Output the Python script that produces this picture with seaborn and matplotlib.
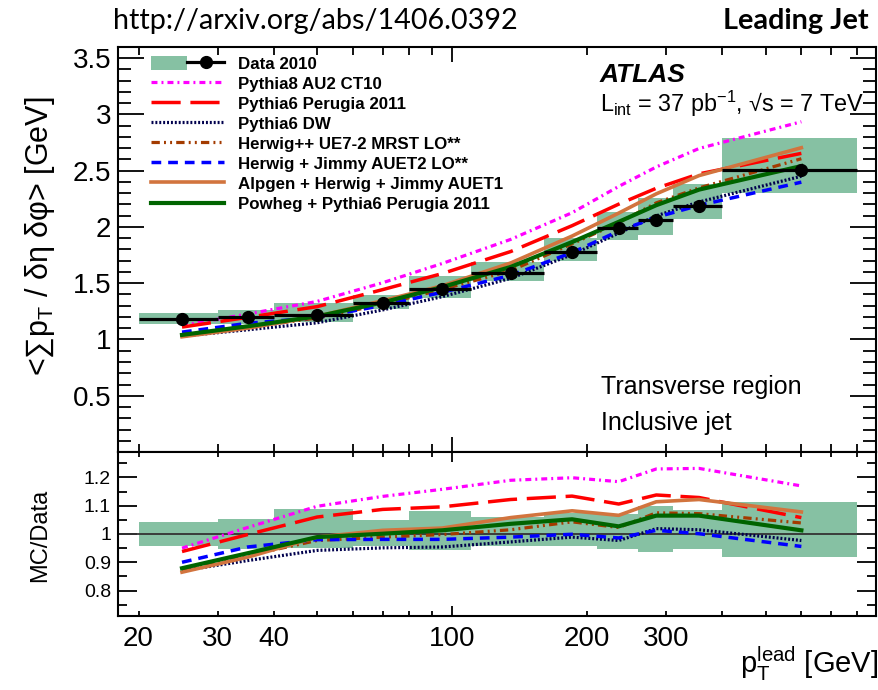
import numpy as np
import pandas as pd
import matplotlib
matplotlib.use("Agg")
import matplotlib.pyplot as plt
import seaborn as sns
from matplotlib.lines import Line2D
from matplotlib.patches import Patch
from matplotlib.legend_handler import HandlerTuple
from matplotlib.ticker import FixedLocator, FixedFormatter, FuncFormatter

# ---------------- data ----------------
bin_edges = [20, 30, 40, 60, 80, 110, 160, 210, 260, 310, 400, 800]
bin_centers = [25, 35, 50, 70, 95, 135, 185, 235, 285, 355, 600]
data_vals = [1.184, 1.199, 1.219, 1.328, 1.447, 1.588, 1.774, 1.992, 2.060, 2.190, 2.509]
data_err_up = [0.051, 0.065, 0.107, 0.065, 0.118, 0.098, 0.130, 0.142, 0.201, 0.189, 0.283]
data_err_dn = [0.050, 0.064, 0.060, 0.058, 0.080, 0.068, 0.074, 0.109, 0.133, 0.115, 0.207]

# MC / Data ratios at the bin centres
ratio_pythia8 = [0.950, 1.023, 1.098, 1.133, 1.158, 1.190, 1.199, 1.185, 1.230, 1.232, 1.170]
ratio_perugia = [0.938, 0.998, 1.060, 1.087, 1.096, 1.122, 1.134, 1.106, 1.138, 1.129, 1.058]
ratio_dw      = [0.870, 0.906, 0.942, 0.951, 0.954, 0.972, 0.989, 0.977, 1.019, 1.015, 0.977]
ratio_herwigpp = [0.872, 0.924, 0.977, 0.989, 0.998, 1.015, 1.043, 1.023, 1.075, 1.072, 1.039]
ratio_jimmy   = [0.900, 0.954, 0.980, 0.981, 0.981, 0.989, 0.999, 0.986, 1.013, 1.001, 0.956]
ratio_alpgen  = [0.865, 0.918, 0.989, 1.013, 1.021, 1.058, 1.082, 1.066, 1.114, 1.122, 1.078]
ratio_powheg  = [0.879, 0.932, 0.989, 1.001, 1.013, 1.036, 1.052, 1.027, 1.065, 1.065, 1.013]

mc_labels = ["Pythia8 AU2 CT10", "Pythia6 Perugia 2011", "Pythia6 DW",
             "Herwig++ UE7-2 MRST LO**", "Herwig + Jimmy AUET2 LO**",
             "Alpgen + Herwig + Jimmy AUET1", "Powheg + Pythia6 Perugia 2011"]
mc_ratios = [ratio_pythia8, ratio_perugia, ratio_dw, ratio_herwigpp,
             ratio_jimmy, ratio_alpgen, ratio_powheg]

# ---------------- styles ----------------
band_color = "#86c1a3"
mc_colors = ["#ff00ff", "#ff0000", "#00004d", "#a33b00", "#0000ff", "#d2743e", "#006400"]
mc_styles = [(0, (4.3, 2.9, 1.4, 2.9)), (0, (21, 7)), (0, (1.4, 1.4)),
             (0, (6, 3, 1.4, 3, 1.4, 3)), (0, (7, 5)), "-", "-"]
mc_widths = [2.3, 2.5, 2.3, 2.3, 2.5, 2.6, 3.0]

plt.rcParams["lines.scale_dashes"] = False
plt.rcParams["font.family"] = ["Liberation Sans", "DejaVu Sans"]
plt.rcParams["mathtext.fontset"] = "custom"
plt.rcParams["mathtext.rm"] = "Liberation Sans"
plt.rcParams["mathtext.it"] = "Liberation Sans:italic"
plt.rcParams["axes.linewidth"] = 1.5

W, H = 879, 690
fig = plt.figure(figsize=(W / 100, H / 100), dpi=100)
ax1 = fig.add_axes([118 / W, 1 - 452 / H, 758 / W, 405 / H])
ax2 = fig.add_axes([118 / W, 1 - 616 / H, 758 / W, 164 / H], sharex=ax1)

edges = np.array(bin_edges, dtype=float)
centers = np.array(bin_centers, dtype=float)
vals = np.array(data_vals)
eup = np.array(data_err_up)
edn = np.array(data_err_dn)

# ----- top panel -----
ax1.bar(edges[:-1], eup + edn, bottom=vals - edn, width=np.diff(edges),
        align="edge", color=band_color, edgecolor="none", zorder=1)
for lab, r, c, ls, lw in zip(mc_labels, mc_ratios, mc_colors, mc_styles, mc_widths):
    df = pd.DataFrame({"pt": centers, "val": np.array(r) * vals})
    sns.lineplot(data=df, x="pt", y="val", ax=ax1, color=c, linestyle=ls,
                 linewidth=lw, dash_capstyle="butt", zorder=3, legend=False)
ax1.errorbar(centers, vals, xerr=[centers - edges[:-1], edges[1:] - centers],
             fmt="o", color="black", ms=8.5, elinewidth=2.3, capsize=0, zorder=5)

# ----- ratio panel -----
ax2.bar(edges[:-1], eup / vals + edn / vals, bottom=1 - edn / vals, width=np.diff(edges),
        align="edge", color=band_color, edgecolor="none", zorder=1)
ax2.axhline(1.0, color="#333333", lw=1.3, zorder=2)
for lab, r, c, ls, lw in zip(mc_labels, mc_ratios, mc_colors, mc_styles, mc_widths):
    df = pd.DataFrame({"pt": centers, "ratio": r})
    sns.lineplot(data=df, x="pt", y="ratio", ax=ax2, color=c, linestyle=ls,
                 linewidth=lw, dash_capstyle="butt", zorder=3, legend=False)

# ----- axes -----
for ax in (ax1, ax2):
    ax.set_xscale("log")
    ax.set_xlim(18, 880)
    ax.xaxis.set_major_locator(FixedLocator([100]))
    ax.xaxis.set_minor_locator(FixedLocator([20, 30, 40, 50, 60, 70, 80, 90,
                                             200, 300, 400, 500, 600, 700, 800]))
    ax.set_xlabel("")
    ax.set_ylabel("")
    ax.tick_params(which="both", direction="in", top=True, right=True, width=1.3)

ax1.set_ylim(0, 3.6)
ax1.yaxis.set_major_locator(FixedLocator([0.5, 1, 1.5, 2, 2.5, 3, 3.5]))
ax1.yaxis.set_major_formatter(FixedFormatter(["0.5", "1", "1.5", "2", "2.5", "3", "3.5"]))
ax1.yaxis.set_minor_locator(FixedLocator(np.arange(0.1, 3.6, 0.1)))
ax1.tick_params(axis="y", which="major", length=19, labelsize=20, pad=5)
ax1.tick_params(axis="y", which="minor", length=9.5)
ax1.tick_params(axis="x", which="major", length=11)
ax1.tick_params(axis="x", which="minor", length=5.5)
ax1.tick_params(axis="x", which="both", labelbottom=False)

ax2.set_ylim(0.71, 1.29)
ax2.yaxis.set_major_locator(FixedLocator([0.8, 0.9, 1.0, 1.1, 1.2]))
ax2.yaxis.set_major_formatter(FixedFormatter(["0.8", "0.9", "1", "1.1", "1.2"]))
ax2.yaxis.set_minor_locator(FixedLocator([0.75, 0.85, 0.95, 1.05, 1.15, 1.25]))
ax2.tick_params(axis="y", which="major", length=14, labelsize=14, pad=5)
ax2.tick_params(axis="y", which="minor", length=6.5)
ax2.tick_params(axis="x", which="major", length=7, labelsize=20, pad=7)
ax2.tick_params(axis="x", which="minor", length=3.6, labelsize=20, pad=7)
ax2.xaxis.set_major_formatter(FixedFormatter(["100"]))
ax2.xaxis.set_minor_formatter(FuncFormatter(
    lambda v, p: ("%d" % round(v)) if round(v) in (20, 30, 40, 200, 300) else ""))

# ----- legend -----
handles = [(Patch(facecolor=band_color, edgecolor="none"),
            Line2D([], [], color="black", lw=2.3, marker="o", ms=8.5))]
for c, ls, lw in zip(mc_colors, mc_styles, mc_widths):
    handles.append(Line2D([], [], color=c, linestyle=ls, lw=lw, dash_capstyle="butt"))
labels = ["Data 2010"] + mc_labels
ax1.legend(handles, labels, handler_map={tuple: HandlerTuple(ndivide=None, pad=0)},
           loc="upper left", bbox_to_anchor=(151 / W, 1 - 56 / H),
           bbox_transform=fig.transFigure, frameon=False, borderpad=0,
           borderaxespad=0, handlelength=4.3, handleheight=0.85, handletextpad=0.85,
           labelspacing=0.26, prop={"family": "Liberation Sans", "weight": "bold", "size": 12.2})

# ----- texts -----
def ftext(x, y, s, **kw):
    fig.text(x / W, 1 - y / H, s, **kw)

ftext(113, 21, "http://arxiv.org/abs/1406.0392", ha="left", va="center",
      family="Lato", size=20.7)
ftext(869, 21, "Leading Jet", ha="right", va="center", family="Lato",
      weight="bold", size=20.7)
ftext(600, 75, "ATLAS", ha="left", va="center", weight="bold", style="italic", size=19)
ftext(600, 104, r"L$_{\mathregular{int}}$ = 37 pb$^{\mathregular{-1}}$, √s = 7 TeV",
      ha="left", va="center", size=16.8)
ftext(601, 387, "Transverse region", ha="left", va="center", size=18)
ftext(601, 423, "Inclusive jet", ha="left", va="center", size=18)
ftext(40, 236, r"<∑p$_{\mathregular{T}}$ / δη δφ> [GeV]", ha="center", va="center",
      rotation=90, size=22)
ftext(40, 535, "MC/Data", ha="center", va="center", rotation=90, size=17)
ftext(878, 664, r"p$_{\mathregular{T}}^{\mathregular{lead}}$ [GeV]", ha="right",
      va="center", size=21)

fig.savefig("out.png", dpi=100)
